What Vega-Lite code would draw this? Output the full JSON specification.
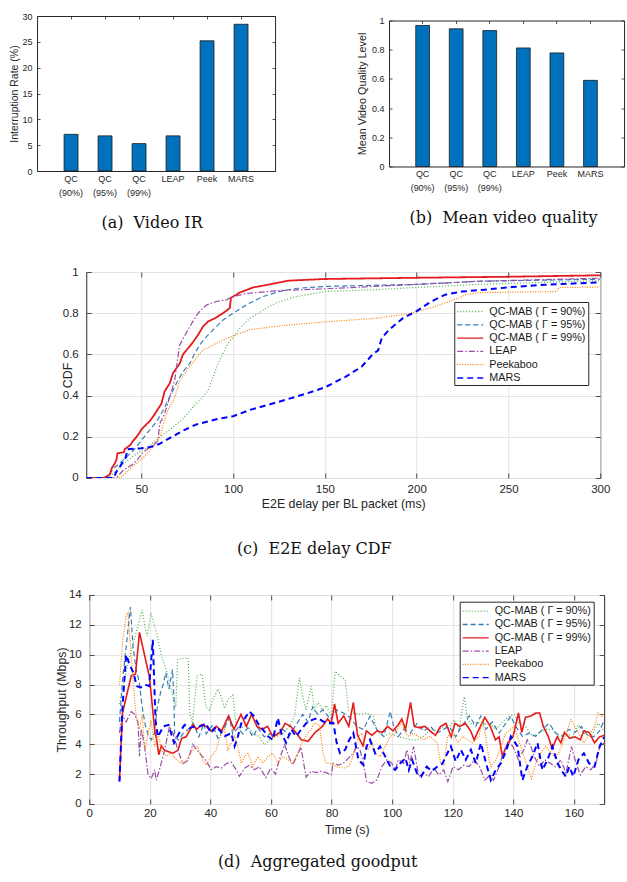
{
"$schema": "https://vega.github.io/schema/vega-lite/v6.json",
"background": "white",
"padding": {"left": 7.8, "top": 2, "right": 0, "bottom": 0},
"config": {
  "font": "Liberation Sans",
  "view": {"stroke": "#262626", "strokeWidth": 1},
  "axis": {"domain": false, "labelColor": "#262626", "titleColor": "#262626", "tickColor": "#262626", "tickWidth": 0.8, "titleFontWeight": "normal", "labelFlush": false, "labelOverlap": false, "gridColor": "#e3e3e3", "gridWidth": 1, "labelFont": "Liberation Sans", "titleFont": "Liberation Sans"},
  "title": {"font": "DejaVu Serif", "fontSize": 16, "fontWeight": "normal", "color": "#111111"},
  "legend": {"title": null, "orient": "none", "fillColor": "white", "strokeColor": "#262626", "padding": 2, "labelFontSize": 10.8, "labelColor": "#1a1a1a", "symbolType": "M-1,0H3", "symbolSize": 169, "symbolStrokeWidth": 1.3, "labelOffset": 18, "rowPadding": 0.3, "cornerRadius": 0}
},
"datasets": {
  "ir": [
    {"m": "QC|(90%)", "v": 7.1}, {"m": "QC|(95%)", "v": 6.8}, {"m": "QC|(99%)", "v": 5.3},
    {"m": "LEAP", "v": 6.8}, {"m": "Peek", "v": 25.2}, {"m": "MARS", "v": 28.4}
  ],
  "quality": [
    {"m": "QC|(90%)", "v": 0.966}, {"m": "QC|(95%)", "v": 0.943}, {"m": "QC|(99%)", "v": 0.931},
    {"m": "LEAP", "v": 0.812}, {"m": "Peek", "v": 0.778}, {"m": "MARS", "v": 0.59}
  ],
  "cdf": [
    {"s":"g90","x":20,"y":0},{"s":"g90","x":32,"y":0},{"s":"g90","x":34.5,"y":0.02},{"s":"g90","x":40,"y":0.068},{"s":"g90","x":47.3,"y":0.117},{"s":"g90","x":54.5,"y":0.158},{"s":"g90","x":60,"y":0.198},{"s":"g90","x":67.3,"y":0.247},{"s":"g90","x":72.7,"y":0.288},{"s":"g90","x":78.2,"y":0.345},{"s":"g90","x":82.7,"y":0.385},{"s":"g90","x":86.4,"y":0.426},{"s":"g90","x":89.1,"y":0.49},{"s":"g90","x":91.8,"y":0.556},{"s":"g90","x":94.5,"y":0.605},{"s":"g90","x":97.3,"y":0.655},{"s":"g90","x":100,"y":0.685},{"s":"g90","x":104,"y":0.73},{"s":"g90","x":109,"y":0.775},{"s":"g90","x":114,"y":0.8},{"s":"g90","x":120,"y":0.835},{"s":"g90","x":125,"y":0.855},{"s":"g90","x":134,"y":0.88},{"s":"g90","x":150,"y":0.905},{"s":"g90","x":179,"y":0.915},{"s":"g90","x":200,"y":0.925},{"s":"g90","x":234,"y":0.94},{"s":"g90","x":300,"y":0.958},
    {"s":"g95","x":20,"y":0},{"s":"g95","x":29,"y":0},{"s":"g95","x":32.7,"y":0.02},{"s":"g95","x":35.5,"y":0.052},{"s":"g95","x":38,"y":0.07},{"s":"g95","x":41.8,"y":0.1},{"s":"g95","x":46.4,"y":0.141},{"s":"g95","x":50,"y":0.182},{"s":"g95","x":53.6,"y":0.223},{"s":"g95","x":58.2,"y":0.272},{"s":"g95","x":61.8,"y":0.328},{"s":"g95","x":64.5,"y":0.377},{"s":"g95","x":67.3,"y":0.426},{"s":"g95","x":70,"y":0.475},{"s":"g95","x":72.7,"y":0.515},{"s":"g95","x":76.4,"y":0.556},{"s":"g95","x":79.1,"y":0.605},{"s":"g95","x":81.8,"y":0.646},{"s":"g95","x":85.5,"y":0.686},{"s":"g95","x":89.1,"y":0.719},{"s":"g95","x":94.5,"y":0.767},{"s":"g95","x":100,"y":0.8},{"s":"g95","x":107.3,"y":0.841},{"s":"g95","x":110.9,"y":0.857},{"s":"g95","x":116,"y":0.88},{"s":"g95","x":125,"y":0.905},{"s":"g95","x":134,"y":0.92},{"s":"g95","x":150,"y":0.93},{"s":"g95","x":200,"y":0.94},{"s":"g95","x":234,"y":0.955},{"s":"g95","x":300,"y":0.965},
    {"s":"g99","x":20,"y":0},{"s":"g99","x":30,"y":0},{"s":"g99","x":31,"y":0.005},{"s":"g99","x":33,"y":0.02},{"s":"g99","x":34,"y":0.05},{"s":"g99","x":35.5,"y":0.07},{"s":"g99","x":36.5,"y":0.09},{"s":"g99","x":37,"y":0.12},{"s":"g99","x":40.5,"y":0.125},{"s":"g99","x":41,"y":0.14},{"s":"g99","x":44,"y":0.16},{"s":"g99","x":45.5,"y":0.18},{"s":"g99","x":47,"y":0.195},{"s":"g99","x":49,"y":0.22},{"s":"g99","x":50,"y":0.235},{"s":"g99","x":52.7,"y":0.26},{"s":"g99","x":54.5,"y":0.275},{"s":"g99","x":57.3,"y":0.31},{"s":"g99","x":60.9,"y":0.36},{"s":"g99","x":62.7,"y":0.42},{"s":"g99","x":65.5,"y":0.46},{"s":"g99","x":67.3,"y":0.51},{"s":"g99","x":70.9,"y":0.555},{"s":"g99","x":72.7,"y":0.6},{"s":"g99","x":76.4,"y":0.64},{"s":"g99","x":78.2,"y":0.66},{"s":"g99","x":80.9,"y":0.695},{"s":"g99","x":83.6,"y":0.735},{"s":"g99","x":86.4,"y":0.76},{"s":"g99","x":90,"y":0.775},{"s":"g99","x":94.5,"y":0.8},{"s":"g99","x":98.2,"y":0.825},{"s":"g99","x":98.8,"y":0.875},{"s":"g99","x":103.6,"y":0.9},{"s":"g99","x":110.9,"y":0.925},{"s":"g99","x":120,"y":0.94},{"s":"g99","x":130,"y":0.958},{"s":"g99","x":150,"y":0.966},{"s":"g99","x":200,"y":0.972},{"s":"g99","x":250,"y":0.977},{"s":"g99","x":300,"y":0.984},
    {"s":"LEAP","x":20,"y":0},{"s":"LEAP","x":36,"y":0},{"s":"LEAP","x":37.3,"y":0.01},{"s":"LEAP","x":40,"y":0.036},{"s":"LEAP","x":45.5,"y":0.068},{"s":"LEAP","x":48,"y":0.09},{"s":"LEAP","x":50.9,"y":0.125},{"s":"LEAP","x":56.4,"y":0.16},{"s":"LEAP","x":59,"y":0.18},{"s":"LEAP","x":59.5,"y":0.22},{"s":"LEAP","x":60,"y":0.263},{"s":"LEAP","x":62.7,"y":0.312},{"s":"LEAP","x":65.5,"y":0.393},{"s":"LEAP","x":68.2,"y":0.475},{"s":"LEAP","x":69.5,"y":0.56},{"s":"LEAP","x":70.9,"y":0.646},{"s":"LEAP","x":73,"y":0.68},{"s":"LEAP","x":76.4,"y":0.735},{"s":"LEAP","x":80.9,"y":0.8},{"s":"LEAP","x":85.5,"y":0.84},{"s":"LEAP","x":90.9,"y":0.857},{"s":"LEAP","x":96.4,"y":0.865},{"s":"LEAP","x":99,"y":0.878},{"s":"LEAP","x":106.7,"y":0.895},{"s":"LEAP","x":125,"y":0.91},{"s":"LEAP","x":150,"y":0.918},{"s":"LEAP","x":200,"y":0.94},{"s":"LEAP","x":234,"y":0.955},{"s":"LEAP","x":300,"y":0.97},
    {"s":"Peek","x":20,"y":0},{"s":"Peek","x":37,"y":0},{"s":"Peek","x":40,"y":0.01},{"s":"Peek","x":45.5,"y":0.06},{"s":"Peek","x":50,"y":0.09},{"s":"Peek","x":54.5,"y":0.13},{"s":"Peek","x":58.2,"y":0.17},{"s":"Peek","x":60.9,"y":0.22},{"s":"Peek","x":62.5,"y":0.28},{"s":"Peek","x":64.5,"y":0.33},{"s":"Peek","x":68.2,"y":0.39},{"s":"Peek","x":70.9,"y":0.47},{"s":"Peek","x":74.5,"y":0.52},{"s":"Peek","x":78.2,"y":0.56},{"s":"Peek","x":80.9,"y":0.595},{"s":"Peek","x":83.6,"y":0.62},{"s":"Peek","x":89,"y":0.645},{"s":"Peek","x":94.5,"y":0.67},{"s":"Peek","x":100,"y":0.69},{"s":"Peek","x":109,"y":0.72},{"s":"Peek","x":125,"y":0.738},{"s":"Peek","x":150,"y":0.758},{"s":"Peek","x":179,"y":0.776},{"s":"Peek","x":194,"y":0.795},{"s":"Peek","x":201,"y":0.81},{"s":"Peek","x":208,"y":0.826},{"s":"Peek","x":215.6,"y":0.85},{"s":"Peek","x":222.9,"y":0.873},{"s":"Peek","x":226.5,"y":0.89},{"s":"Peek","x":233.8,"y":0.9},{"s":"Peek","x":276.5,"y":0.905},{"s":"Peek","x":277.5,"y":0.925},{"s":"Peek","x":300,"y":0.927},
    {"s":"MARS","x":20,"y":0},{"s":"MARS","x":35,"y":0},{"s":"MARS","x":36.4,"y":0.03},{"s":"MARS","x":38,"y":0.05},{"s":"MARS","x":41.5,"y":0.1},{"s":"MARS","x":42.5,"y":0.14},{"s":"MARS","x":50,"y":0.145},{"s":"MARS","x":55,"y":0.15},{"s":"MARS","x":60,"y":0.166},{"s":"MARS","x":72.7,"y":0.23},{"s":"MARS","x":80,"y":0.26},{"s":"MARS","x":90.9,"y":0.285},{"s":"MARS","x":100,"y":0.3},{"s":"MARS","x":109,"y":0.33},{"s":"MARS","x":124.9,"y":0.37},{"s":"MARS","x":140,"y":0.41},{"s":"MARS","x":150,"y":0.44},{"s":"MARS","x":161,"y":0.49},{"s":"MARS","x":170,"y":0.54},{"s":"MARS","x":176,"y":0.6},{"s":"MARS","x":179,"y":0.62},{"s":"MARS","x":181,"y":0.68},{"s":"MARS","x":185,"y":0.72},{"s":"MARS","x":192.5,"y":0.776},{"s":"MARS","x":200,"y":0.81},{"s":"MARS","x":208,"y":0.857},{"s":"MARS","x":215.6,"y":0.89},{"s":"MARS","x":224.6,"y":0.905},{"s":"MARS","x":237,"y":0.914},{"s":"MARS","x":251.8,"y":0.927},{"s":"MARS","x":270,"y":0.938},{"s":"MARS","x":300,"y":0.95}
  ],
  "tp": [
    {"s":"g90","t":10,"v":6.7},{"s":"g90","t":12.8,"v":9.45},{"s":"g90","t":15.2,"v":11.25},{"s":"g90","t":17.5,"v":13.0},{"s":"g90","t":18.4,"v":11.9},{"s":"g90","t":19.2,"v":11.25},{"s":"g90","t":20.4,"v":12.8},{"s":"g90","t":22.2,"v":11.5},{"s":"g90","t":23.9,"v":9.9},{"s":"g90","t":25.7,"v":8.8},{"s":"g90","t":27.4,"v":7.4},{"s":"g90","t":28.6,"v":6.5},{"s":"g90","t":29.2,"v":9.7},{"s":"g90","t":32.7,"v":9.8},{"s":"g90","t":33.2,"v":6.1},{"s":"g90","t":34.1,"v":5.4},{"s":"g90","t":35.6,"v":8.6},{"s":"g90","t":37.3,"v":8.7},{"s":"g90","t":38.5,"v":6.5},{"s":"g90","t":39.7,"v":6.3},{"s":"g90","t":40.8,"v":7.0},{"s":"g90","t":42.5,"v":7.7},{"s":"g90","t":43.6,"v":7.2},{"s":"g90","t":44.7,"v":6.4},{"s":"g90","t":45.8,"v":7.0},{"s":"g90","t":47.4,"v":7.3},{"s":"g90","t":48.5,"v":5.3},{"s":"g90","t":49.6,"v":5.0},{"s":"g90","t":51.8,"v":5.3},{"s":"g90","t":54,"v":4.74},{"s":"g90","t":56.2,"v":4.5},{"s":"g90","t":57.8,"v":3.97},{"s":"g90","t":59.5,"v":4.3},{"s":"g90","t":61.7,"v":4.5},{"s":"g90","t":63.9,"v":4.74},{"s":"g90","t":66.1,"v":5.2},{"s":"g90","t":67.8,"v":5.9},{"s":"g90","t":69.4,"v":8.45},{"s":"g90","t":70.5,"v":7.2},{"s":"g90","t":71.6,"v":6.3},{"s":"g90","t":73.3,"v":7.9},{"s":"g90","t":74.4,"v":6.3},{"s":"g90","t":75.5,"v":6.8},{"s":"g90","t":77.1,"v":6.3},{"s":"g90","t":78.2,"v":6.6},{"s":"g90","t":79.9,"v":5.9},{"s":"g90","t":80.5,"v":7.2},{"s":"g90","t":81.2,"v":8.9},{"s":"g90","t":82.8,"v":8.57},{"s":"g90","t":84.5,"v":8.35},{"s":"g90","t":85.6,"v":6.3},{"s":"g90","t":87.2,"v":6.1},{"s":"g90","t":89.4,"v":6.0},{"s":"g90","t":91.6,"v":6.1},{"s":"g90","t":93.8,"v":5.87},{"s":"g90","t":95,"v":4.87},{"s":"g90","t":97.2,"v":4.53},{"s":"g90","t":99.4,"v":4.75},{"s":"g90","t":101.6,"v":4.53},{"s":"g90","t":103.8,"v":4.42},{"s":"g90","t":106,"v":4.3},{"s":"g90","t":108.2,"v":4.3},{"s":"g90","t":110.4,"v":4.53},{"s":"g90","t":112.6,"v":5.0},{"s":"g90","t":114.8,"v":4.87},{"s":"g90","t":117,"v":5.2},{"s":"g90","t":118.6,"v":5.1},{"s":"g90","t":120.5,"v":5.65},{"s":"g90","t":122.1,"v":4.98},{"s":"g90","t":123.8,"v":7.2},{"s":"g90","t":124.9,"v":5.65},{"s":"g90","t":126.5,"v":5.3},{"s":"g90","t":128.2,"v":5.5},{"s":"g90","t":129.8,"v":5.2},{"s":"g90","t":132,"v":5.5},{"s":"g90","t":134.2,"v":4.98},{"s":"g90","t":136.4,"v":5.5},{"s":"g90","t":138.6,"v":5.87},{"s":"g90","t":140.3,"v":6.0},{"s":"g90","t":141.9,"v":5.4},{"s":"g90","t":144.1,"v":5.2},{"s":"g90","t":146.3,"v":4.53},{"s":"g90","t":148.5,"v":4.75},{"s":"g90","t":150.7,"v":5.0},{"s":"g90","t":152.9,"v":4.98},{"s":"g90","t":155.1,"v":4.53},{"s":"g90","t":157.3,"v":4.75},{"s":"g90","t":159.5,"v":4.53},{"s":"g90","t":161.5,"v":5.3},{"s":"g90","t":163.3,"v":4.75},{"s":"g90","t":165.6,"v":4.5},{"s":"g90","t":168,"v":5.4},{"s":"g90","t":170,"v":4.9},
    {"s":"g95","t":10,"v":5.5},{"s":"g95","t":11.1,"v":8.5},{"s":"g95","t":12.2,"v":10.5},{"s":"g95","t":13.6,"v":13.2},{"s":"g95","t":14.5,"v":10.5},{"s":"g95","t":15.5,"v":9.0},{"s":"g95","t":16.5,"v":8.2},{"s":"g95","t":17.5,"v":6.5},{"s":"g95","t":18.5,"v":5.3},{"s":"g95","t":19.5,"v":4.6},{"s":"g95","t":20.5,"v":4.3},{"s":"g95","t":21.5,"v":4.7},{"s":"g95","t":22.5,"v":6.5},{"s":"g95","t":23.6,"v":7.5},{"s":"g95","t":24.4,"v":8.0},{"s":"g95","t":25.3,"v":8.8},{"s":"g95","t":26.3,"v":7.7},{"s":"g95","t":27.5,"v":9.0},{"s":"g95","t":28,"v":7.0},{"s":"g95","t":28.2,"v":4.53},{"s":"g95","t":29.5,"v":4.3},{"s":"g95","t":31.1,"v":4.75},{"s":"g95","t":32.7,"v":5.0},{"s":"g95","t":34.4,"v":5.4},{"s":"g95","t":36.2,"v":4.5},{"s":"g95","t":37.9,"v":5.4},{"s":"g95","t":38.6,"v":4.7},{"s":"g95","t":40.8,"v":5.3},{"s":"g95","t":42.5,"v":4.4},{"s":"g95","t":44.7,"v":5.1},{"s":"g95","t":46.3,"v":5.8},{"s":"g95","t":47.4,"v":4.7},{"s":"g95","t":49.1,"v":5.1},{"s":"g95","t":50.7,"v":4.7},{"s":"g95","t":52.4,"v":5.1},{"s":"g95","t":54,"v":4.5},{"s":"g95","t":55.7,"v":5.1},{"s":"g95","t":57.8,"v":4.5},{"s":"g95","t":59.5,"v":4.7},{"s":"g95","t":61.7,"v":4.6},{"s":"g95","t":63.9,"v":5.0},{"s":"g95","t":66.1,"v":4.6},{"s":"g95","t":68.3,"v":5.3},{"s":"g95","t":70.5,"v":6.0},{"s":"g95","t":72.2,"v":5.5},{"s":"g95","t":73.8,"v":6.5},{"s":"g95","t":75.5,"v":6.0},{"s":"g95","t":77.1,"v":6.3},{"s":"g95","t":78.8,"v":5.9},{"s":"g95","t":79.5,"v":5.65},{"s":"g95","t":81.7,"v":6.3},{"s":"g95","t":83.9,"v":6.1},{"s":"g95","t":86.1,"v":5.8},{"s":"g95","t":88.3,"v":5.2},{"s":"g95","t":90.5,"v":5.0},{"s":"g95","t":92.7,"v":5.87},{"s":"g95","t":95,"v":4.98},{"s":"g95","t":97.2,"v":4.53},{"s":"g95","t":99.4,"v":6.2},{"s":"g95","t":100.5,"v":5.2},{"s":"g95","t":102.1,"v":4.53},{"s":"g95","t":103.8,"v":5.0},{"s":"g95","t":106,"v":4.75},{"s":"g95","t":108.2,"v":5.4},{"s":"g95","t":110.4,"v":4.87},{"s":"g95","t":112.6,"v":5.2},{"s":"g95","t":114.8,"v":4.75},{"s":"g95","t":117,"v":5.0},{"s":"g95","t":118.8,"v":5.2},{"s":"g95","t":121,"v":4.5},{"s":"g95","t":122.6,"v":5.1},{"s":"g95","t":125.5,"v":5.9},{"s":"g95","t":127.6,"v":5.2},{"s":"g95","t":129.3,"v":5.9},{"s":"g95","t":131,"v":5.0},{"s":"g95","t":133.1,"v":5.5},{"s":"g95","t":135.3,"v":4.75},{"s":"g95","t":137.5,"v":5.4},{"s":"g95","t":139.2,"v":5.87},{"s":"g95","t":140.8,"v":5.2},{"s":"g95","t":143,"v":4.53},{"s":"g95","t":145.2,"v":4.75},{"s":"g95","t":147.4,"v":4.53},{"s":"g95","t":149.6,"v":5.0},{"s":"g95","t":151.8,"v":5.4},{"s":"g95","t":154,"v":4.75},{"s":"g95","t":156.2,"v":4.53},{"s":"g95","t":158.4,"v":5.0},{"s":"g95","t":160.5,"v":4.8},{"s":"g95","t":162.5,"v":5.2},{"s":"g95","t":164.5,"v":4.6},{"s":"g95","t":166.5,"v":4.5},{"s":"g95","t":168.5,"v":4.9},{"s":"g95","t":170,"v":5.6},
    {"s":"g99","t":10,"v":1.6},{"s":"g99","t":11,"v":6.1},{"s":"g99","t":13.9,"v":8.6},{"s":"g99","t":15.3,"v":8.7},{"s":"g99","t":16.6,"v":11.5},{"s":"g99","t":19.9,"v":8.5},{"s":"g99","t":21.6,"v":5.0},{"s":"g99","t":22.1,"v":4.5},{"s":"g99","t":23,"v":3.3},{"s":"g99","t":23.8,"v":3.9},{"s":"g99","t":24.9,"v":3.6},{"s":"g99","t":27.6,"v":3.4},{"s":"g99","t":29.3,"v":3.6},{"s":"g99","t":30.5,"v":4.4},{"s":"g99","t":32,"v":4.5},{"s":"g99","t":34.2,"v":5.3},{"s":"g99","t":35.5,"v":5.0},{"s":"g99","t":37,"v":5.3},{"s":"g99","t":38.6,"v":5.2},{"s":"g99","t":40.2,"v":4.9},{"s":"g99","t":42,"v":5.2},{"s":"g99","t":43.7,"v":4.9},{"s":"g99","t":46,"v":5.9},{"s":"g99","t":47.8,"v":5.0},{"s":"g99","t":50.1,"v":6.0},{"s":"g99","t":51.9,"v":5.2},{"s":"g99","t":53.6,"v":6.0},{"s":"g99","t":55.4,"v":5.2},{"s":"g99","t":57.1,"v":5.0},{"s":"g99","t":58.9,"v":5.2},{"s":"g99","t":60.6,"v":4.5},{"s":"g99","t":63,"v":4.8},{"s":"g99","t":64.7,"v":5.4},{"s":"g99","t":66.5,"v":5.2},{"s":"g99","t":68.2,"v":4.8},{"s":"g99","t":70,"v":4.3},{"s":"g99","t":72.3,"v":4.2},{"s":"g99","t":74.6,"v":4.8},{"s":"g99","t":77,"v":5.2},{"s":"g99","t":78.7,"v":5.7},{"s":"g99","t":79.9,"v":5.4},{"s":"g99","t":81,"v":6.7},{"s":"g99","t":82.2,"v":5.4},{"s":"g99","t":84,"v":5.9},{"s":"g99","t":85.7,"v":5.2},{"s":"g99","t":87.2,"v":6.8},{"s":"g99","t":88.6,"v":4.6},{"s":"g99","t":90.4,"v":3.9},{"s":"g99","t":91.5,"v":4.9},{"s":"g99","t":93.3,"v":4.6},{"s":"g99","t":95,"v":4.9},{"s":"g99","t":96.8,"v":4.8},{"s":"g99","t":98.5,"v":5.2},{"s":"g99","t":100.3,"v":4.9},{"s":"g99","t":102,"v":5.3},{"s":"g99","t":103.2,"v":5.7},{"s":"g99","t":104.4,"v":5.0},{"s":"g99","t":106.1,"v":6.8},{"s":"g99","t":107.3,"v":5.2},{"s":"g99","t":109,"v":5.1},{"s":"g99","t":110.8,"v":5.2},{"s":"g99","t":112.5,"v":4.9},{"s":"g99","t":114.3,"v":4.6},{"s":"g99","t":116,"v":5.2},{"s":"g99","t":117.8,"v":5.4},{"s":"g99","t":119.5,"v":4.5},{"s":"g99","t":120.7,"v":5.4},{"s":"g99","t":122.4,"v":5.2},{"s":"g99","t":124.2,"v":5.4},{"s":"g99","t":125.9,"v":4.9},{"s":"g99","t":127.1,"v":4.3},{"s":"g99","t":128.9,"v":5.1},{"s":"g99","t":130.6,"v":5.8},{"s":"g99","t":132.4,"v":5.2},{"s":"g99","t":134.1,"v":4.3},{"s":"g99","t":135.3,"v":4.5},{"s":"g99","t":136.4,"v":3.2},{"s":"g99","t":138.2,"v":4.1},{"s":"g99","t":139.9,"v":4.5},{"s":"g99","t":141.7,"v":6.1},{"s":"g99","t":142.8,"v":4.8},{"s":"g99","t":144,"v":5.8},{"s":"g99","t":145.8,"v":5.9},{"s":"g99","t":147.5,"v":6.1},{"s":"g99","t":148.7,"v":6.1},{"s":"g99","t":149.9,"v":5.2},{"s":"g99","t":151.6,"v":4.5},{"s":"g99","t":152.8,"v":3.7},{"s":"g99","t":154.5,"v":4.5},{"s":"g99","t":155.7,"v":4.1},{"s":"g99","t":156.9,"v":4.8},{"s":"g99","t":158.6,"v":4.4},{"s":"g99","t":160.4,"v":4.5},{"s":"g99","t":162.1,"v":4.3},{"s":"g99","t":163.3,"v":4.9},{"s":"g99","t":165,"v":4.8},{"s":"g99","t":166.8,"v":4.1},{"s":"g99","t":168.5,"v":4.5},{"s":"g99","t":170,"v":4.6},
    {"s":"LEAP","t":10,"v":4.76},{"s":"LEAP","t":10.6,"v":5.6},{"s":"LEAP","t":11.1,"v":5.9},{"s":"LEAP","t":12.2,"v":5.5},{"s":"LEAP","t":13.9,"v":6.2},{"s":"LEAP","t":15,"v":6.0},{"s":"LEAP","t":16.1,"v":5.5},{"s":"LEAP","t":16.6,"v":3.2},{"s":"LEAP","t":17.2,"v":5.0},{"s":"LEAP","t":18.3,"v":3.9},{"s":"LEAP","t":19.4,"v":2.0},{"s":"LEAP","t":20.5,"v":1.7},{"s":"LEAP","t":21.6,"v":2.3},{"s":"LEAP","t":22.1,"v":1.6},{"s":"LEAP","t":23.2,"v":2.3},{"s":"LEAP","t":24.9,"v":3.6},{"s":"LEAP","t":26.5,"v":5.2},{"s":"LEAP","t":27.6,"v":4.8},{"s":"LEAP","t":29.3,"v":3.6},{"s":"LEAP","t":30.9,"v":2.7},{"s":"LEAP","t":32.6,"v":2.9},{"s":"LEAP","t":34.2,"v":4.0},{"s":"LEAP","t":36,"v":3.5},{"s":"LEAP","t":38.6,"v":2.9},{"s":"LEAP","t":40.3,"v":2.3},{"s":"LEAP","t":41.9,"v":2.5},{"s":"LEAP","t":43.6,"v":2.4},{"s":"LEAP","t":45.2,"v":2.7},{"s":"LEAP","t":46.9,"v":2.8},{"s":"LEAP","t":48.5,"v":2.3},{"s":"LEAP","t":49.6,"v":1.85},{"s":"LEAP","t":51.3,"v":2.4},{"s":"LEAP","t":52.9,"v":2.6},{"s":"LEAP","t":54.5,"v":2.3},{"s":"LEAP","t":56.2,"v":2.5},{"s":"LEAP","t":58.3,"v":1.76},{"s":"LEAP","t":60,"v":2.4},{"s":"LEAP","t":61.5,"v":2.0},{"s":"LEAP","t":62.8,"v":3.0},{"s":"LEAP","t":64.5,"v":3.98},{"s":"LEAP","t":66.1,"v":3.08},{"s":"LEAP","t":67.2,"v":2.63},{"s":"LEAP","t":68.8,"v":3.3},{"s":"LEAP","t":69.9,"v":3.8},{"s":"LEAP","t":71.6,"v":1.8},{"s":"LEAP","t":73.3,"v":2.2},{"s":"LEAP","t":74.9,"v":2.1},{"s":"LEAP","t":76.6,"v":2.2},{"s":"LEAP","t":78.2,"v":2.1},{"s":"LEAP","t":79.9,"v":1.96},{"s":"LEAP","t":80.5,"v":2.73},{"s":"LEAP","t":82.2,"v":2.6},{"s":"LEAP","t":83.9,"v":2.73},{"s":"LEAP","t":85.6,"v":3.07},{"s":"LEAP","t":87.2,"v":3.4},{"s":"LEAP","t":88.3,"v":3.85},{"s":"LEAP","t":89.4,"v":3.63},{"s":"LEAP","t":90.5,"v":2.73},{"s":"LEAP","t":91.6,"v":1.5},{"s":"LEAP","t":93.3,"v":1.39},{"s":"LEAP","t":95,"v":1.62},{"s":"LEAP","t":96.6,"v":2.51},{"s":"LEAP","t":98.3,"v":2.96},{"s":"LEAP","t":99.9,"v":2.73},{"s":"LEAP","t":101,"v":2.28},{"s":"LEAP","t":102.1,"v":2.96},{"s":"LEAP","t":103.8,"v":2.73},{"s":"LEAP","t":104.9,"v":3.63},{"s":"LEAP","t":105.8,"v":2.73},{"s":"LEAP","t":107.1,"v":3.85},{"s":"LEAP","t":108.8,"v":1.84},{"s":"LEAP","t":110.4,"v":2.06},{"s":"LEAP","t":112.1,"v":1.84},{"s":"LEAP","t":113.8,"v":2.4},{"s":"LEAP","t":115.4,"v":1.95},{"s":"LEAP","t":117,"v":2.28},{"s":"LEAP","t":118.4,"v":1.5},{"s":"LEAP","t":120.1,"v":2.5},{"s":"LEAP","t":121.9,"v":2.3},{"s":"LEAP","t":123.6,"v":2.6},{"s":"LEAP","t":125.4,"v":2.5},{"s":"LEAP","t":127.1,"v":2.96},{"s":"LEAP","t":128.9,"v":2.5},{"s":"LEAP","t":130.6,"v":1.6},{"s":"LEAP","t":132.4,"v":1.95},{"s":"LEAP","t":133.5,"v":1.6},{"s":"LEAP","t":135.3,"v":2.5},{"s":"LEAP","t":137,"v":3.63},{"s":"LEAP","t":138.8,"v":4.1},{"s":"LEAP","t":139.9,"v":3.85},{"s":"LEAP","t":141.7,"v":2.96},{"s":"LEAP","t":143.4,"v":3.6},{"s":"LEAP","t":144.6,"v":4.3},{"s":"LEAP","t":145.8,"v":3.85},{"s":"LEAP","t":146.9,"v":3.18},{"s":"LEAP","t":148.7,"v":2.5},{"s":"LEAP","t":150.4,"v":2.96},{"s":"LEAP","t":152.2,"v":2.73},{"s":"LEAP","t":153.9,"v":2.5},{"s":"LEAP","t":155.7,"v":2.96},{"s":"LEAP","t":157.4,"v":2.06},{"s":"LEAP","t":159.2,"v":3.85},{"s":"LEAP","t":160.4,"v":2.96},{"s":"LEAP","t":162.1,"v":1.95},{"s":"LEAP","t":163.9,"v":2.5},{"s":"LEAP","t":165.6,"v":2.3},{"s":"LEAP","t":167.3,"v":2.73},{"s":"LEAP","t":168.5,"v":3.85},{"s":"LEAP","t":170,"v":4.1},
    {"s":"Peek","t":10,"v":8.0},{"s":"Peek","t":11.1,"v":11.0},{"s":"Peek","t":12.2,"v":12.6},{"s":"Peek","t":12.8,"v":12.8},{"s":"Peek","t":13.9,"v":9.9},{"s":"Peek","t":14.6,"v":8.0},{"s":"Peek","t":15.5,"v":5.9},{"s":"Peek","t":16.6,"v":5.0},{"s":"Peek","t":17.5,"v":6.0},{"s":"Peek","t":18.3,"v":3.6},{"s":"Peek","t":19.4,"v":4.7},{"s":"Peek","t":20.4,"v":5.6},{"s":"Peek","t":21.6,"v":3.85},{"s":"Peek","t":22.7,"v":4.75},{"s":"Peek","t":23.8,"v":3.6},{"s":"Peek","t":25.4,"v":3.2},{"s":"Peek","t":27.1,"v":3.4},{"s":"Peek","t":28.7,"v":3.0},{"s":"Peek","t":30.4,"v":2.7},{"s":"Peek","t":32,"v":2.95},{"s":"Peek","t":34.2,"v":3.6},{"s":"Peek","t":35.8,"v":3.85},{"s":"Peek","t":37.3,"v":3.0},{"s":"Peek","t":38.6,"v":2.6},{"s":"Peek","t":40.3,"v":3.2},{"s":"Peek","t":41.9,"v":3.6},{"s":"Peek","t":43.6,"v":4.75},{"s":"Peek","t":44.7,"v":5.0},{"s":"Peek","t":45.8,"v":3.63},{"s":"Peek","t":46.9,"v":4.1},{"s":"Peek","t":48,"v":4.53},{"s":"Peek","t":49.1,"v":3.86},{"s":"Peek","t":50.2,"v":2.73},{"s":"Peek","t":51.3,"v":3.18},{"s":"Peek","t":52.4,"v":3.4},{"s":"Peek","t":54,"v":2.5},{"s":"Peek","t":55.7,"v":3.18},{"s":"Peek","t":57.3,"v":2.73},{"s":"Peek","t":59,"v":3.18},{"s":"Peek","t":60.6,"v":3.4},{"s":"Peek","t":62.3,"v":2.73},{"s":"Peek","t":63.9,"v":3.18},{"s":"Peek","t":65.5,"v":2.96},{"s":"Peek","t":67.2,"v":2.73},{"s":"Peek","t":68.8,"v":3.4},{"s":"Peek","t":69.9,"v":3.97},{"s":"Peek","t":72.2,"v":4.75},{"s":"Peek","t":73.3,"v":5.0},{"s":"Peek","t":74.4,"v":5.43},{"s":"Peek","t":76,"v":5.3},{"s":"Peek","t":77.1,"v":3.52},{"s":"Peek","t":78.2,"v":2.73},{"s":"Peek","t":79.5,"v":2.73},{"s":"Peek","t":81.7,"v":2.5},{"s":"Peek","t":83.9,"v":2.4},{"s":"Peek","t":85.6,"v":2.5},{"s":"Peek","t":86.7,"v":2.96},{"s":"Peek","t":87.8,"v":3.74},{"s":"Peek","t":88.9,"v":4.53},{"s":"Peek","t":90,"v":4.75},{"s":"Peek","t":91.1,"v":3.86},{"s":"Peek","t":92.2,"v":3.63},{"s":"Peek","t":93.3,"v":4.1},{"s":"Peek","t":94.4,"v":3.4},{"s":"Peek","t":96,"v":3.18},{"s":"Peek","t":97.7,"v":3.86},{"s":"Peek","t":99.4,"v":4.53},{"s":"Peek","t":101,"v":4.75},{"s":"Peek","t":102.1,"v":5.1},{"s":"Peek","t":103.2,"v":5.54},{"s":"Peek","t":104.4,"v":4.75},{"s":"Peek","t":105.5,"v":4.53},{"s":"Peek","t":107.1,"v":4.75},{"s":"Peek","t":110.4,"v":4.3},{"s":"Peek","t":112.6,"v":4.53},{"s":"Peek","t":113.8,"v":4.3},{"s":"Peek","t":114.9,"v":4.1},{"s":"Peek","t":116,"v":2.73},{"s":"Peek","t":117.1,"v":2.62},{"s":"Peek","t":118.3,"v":4.53},{"s":"Peek","t":120,"v":4.75},{"s":"Peek","t":121.6,"v":4.1},{"s":"Peek","t":123.3,"v":4.53},{"s":"Peek","t":124.9,"v":4.3},{"s":"Peek","t":126.5,"v":4.1},{"s":"Peek","t":128.7,"v":4.53},{"s":"Peek","t":129.8,"v":5.65},{"s":"Peek","t":130.9,"v":4.53},{"s":"Peek","t":132,"v":2.96},{"s":"Peek","t":132.6,"v":2.5},{"s":"Peek","t":134.2,"v":2.96},{"s":"Peek","t":135.9,"v":3.86},{"s":"Peek","t":137.5,"v":4.75},{"s":"Peek","t":140.3,"v":5.2},{"s":"Peek","t":143.5,"v":3.2},{"s":"Peek","t":144.6,"v":2.5},{"s":"Peek","t":146,"v":1.7},{"s":"Peek","t":147.4,"v":2.73},{"s":"Peek","t":149,"v":3.4},{"s":"Peek","t":150.7,"v":3.86},{"s":"Peek","t":154,"v":3.07},{"s":"Peek","t":155.7,"v":3.74},{"s":"Peek","t":159,"v":5.65},{"s":"Peek","t":161.5,"v":4.75},{"s":"Peek","t":163.3,"v":4.1},{"s":"Peek","t":166.8,"v":5.2},{"s":"Peek","t":168,"v":6.1},{"s":"Peek","t":169.2,"v":5.87},{"s":"Peek","t":170,"v":6.0},
    {"s":"MARS","t":10,"v":1.5},{"s":"MARS","t":11,"v":6.5},{"s":"MARS","t":12.2,"v":10.0},{"s":"MARS","t":13.4,"v":9.3},{"s":"MARS","t":14.6,"v":8.8},{"s":"MARS","t":15.7,"v":7.9},{"s":"MARS","t":17,"v":7.8},{"s":"MARS","t":18.5,"v":8.0},{"s":"MARS","t":19.8,"v":7.9},{"s":"MARS","t":21,"v":11.0},{"s":"MARS","t":21.9,"v":5.6},{"s":"MARS","t":22.7,"v":4.5},{"s":"MARS","t":24.5,"v":5.2},{"s":"MARS","t":26.2,"v":5.3},{"s":"MARS","t":28,"v":4.1},{"s":"MARS","t":29.7,"v":4.75},{"s":"MARS","t":31.5,"v":5.3},{"s":"MARS","t":33.2,"v":5.1},{"s":"MARS","t":35,"v":5.2},{"s":"MARS","t":36.7,"v":5.2},{"s":"MARS","t":38.5,"v":5.4},{"s":"MARS","t":40.2,"v":4.75},{"s":"MARS","t":42,"v":5.2},{"s":"MARS","t":44.7,"v":4.53},{"s":"MARS","t":46.9,"v":4.75},{"s":"MARS","t":48,"v":3.87},{"s":"MARS","t":49.1,"v":4.53},{"s":"MARS","t":50.2,"v":5.4},{"s":"MARS","t":51.8,"v":5.87},{"s":"MARS","t":52.9,"v":6.2},{"s":"MARS","t":54.5,"v":5.87},{"s":"MARS","t":55.7,"v":5.4},{"s":"MARS","t":57.3,"v":5.0},{"s":"MARS","t":59,"v":4.53},{"s":"MARS","t":60.6,"v":4.3},{"s":"MARS","t":62.3,"v":5.76},{"s":"MARS","t":63.4,"v":4.75},{"s":"MARS","t":65,"v":4.1},{"s":"MARS","t":66.7,"v":5.0},{"s":"MARS","t":68.3,"v":4.53},{"s":"MARS","t":70,"v":5.0},{"s":"MARS","t":71.6,"v":5.4},{"s":"MARS","t":73.8,"v":5.65},{"s":"MARS","t":75.5,"v":5.76},{"s":"MARS","t":77.1,"v":5.54},{"s":"MARS","t":78.8,"v":5.4},{"s":"MARS","t":80.6,"v":5.43},{"s":"MARS","t":81.7,"v":4.1},{"s":"MARS","t":82.8,"v":3.4},{"s":"MARS","t":84.5,"v":3.63},{"s":"MARS","t":85.6,"v":4.2},{"s":"MARS","t":87.2,"v":4.75},{"s":"MARS","t":88.9,"v":2.96},{"s":"MARS","t":90.5,"v":2.62},{"s":"MARS","t":91.6,"v":3.86},{"s":"MARS","t":92.7,"v":4.3},{"s":"MARS","t":94.4,"v":3.4},{"s":"MARS","t":96,"v":3.86},{"s":"MARS","t":97.7,"v":3.19},{"s":"MARS","t":99.4,"v":2.5},{"s":"MARS","t":101,"v":2.28},{"s":"MARS","t":102.7,"v":2.73},{"s":"MARS","t":104.4,"v":3.07},{"s":"MARS","t":105.5,"v":2.28},{"s":"MARS","t":106.6,"v":2.96},{"s":"MARS","t":108.2,"v":2.06},{"s":"MARS","t":109.6,"v":1.84},{"s":"MARS","t":111.4,"v":2.5},{"s":"MARS","t":113.1,"v":2.2},{"s":"MARS","t":114.9,"v":2.5},{"s":"MARS","t":116.6,"v":2.7},{"s":"MARS","t":117.7,"v":3.18},{"s":"MARS","t":119.4,"v":3.86},{"s":"MARS","t":121,"v":2.85},{"s":"MARS","t":122.7,"v":3.63},{"s":"MARS","t":124.3,"v":2.96},{"s":"MARS","t":126,"v":3.63},{"s":"MARS","t":127.6,"v":2.73},{"s":"MARS","t":129.3,"v":4.08},{"s":"MARS","t":131,"v":2.73},{"s":"MARS","t":132.6,"v":1.6},{"s":"MARS","t":134.2,"v":2.28},{"s":"MARS","t":135.9,"v":2.73},{"s":"MARS","t":137.5,"v":3.5},{"s":"MARS","t":139.2,"v":4.53},{"s":"MARS","t":141.4,"v":3.86},{"s":"MARS","t":143,"v":1.6},{"s":"MARS","t":144.6,"v":2.5},{"s":"MARS","t":146.3,"v":3.18},{"s":"MARS","t":148,"v":4.08},{"s":"MARS","t":149.6,"v":2.28},{"s":"MARS","t":151.3,"v":2.96},{"s":"MARS","t":152.9,"v":3.86},{"s":"MARS","t":154.6,"v":2.73},{"s":"MARS","t":156.2,"v":2.17},{"s":"MARS","t":157.3,"v":1.84},{"s":"MARS","t":158.5,"v":2.5},{"s":"MARS","t":159.8,"v":1.84},{"s":"MARS","t":161.5,"v":2.96},{"s":"MARS","t":163.3,"v":3.4},{"s":"MARS","t":165,"v":2.73},{"s":"MARS","t":166.8,"v":2.5},{"s":"MARS","t":168.5,"v":3.85},{"s":"MARS","t":170,"v":4.5}
  ]
},
"concat": [
  {
    "concat": [
      {
        "width": 238, "height": 155,
        "data": {"name": "ir"},
        "title": {"text": "(a)\u00a0 Video IR", "orient": "bottom", "anchor": "middle", "frame": "group", "offset": 17, "dx": -4},
        "layer": [
          {
            "mark": {"type": "bar", "fill": "#0072BD", "stroke": "#1a1a1a", "strokeWidth": 0.8},
            "encoding": {
              "x": {"field": "m", "type": "nominal", "sort": null, "scale": {"paddingInner": 0.59, "paddingOuter": 0.795}, "axis": {"title": null, "labelAngle": 0, "ticks": false, "labelExpr": "split(datum.label, '|')", "labelFontSize": 9, "labelPadding": 3, "labelLineHeight": 14.5, "labelBaseline": "top"}},
              "y": {"field": "v", "type": "quantitative", "scale": {"domain": [0, 30], "nice": false}, "axis": {"values": [0, 5, 10, 15, 20, 25, 30], "title": "Interruption Rate (%)", "titleFontSize": 10.5, "titleAngle": 270, "titleX": -18, "tickSize": -3, "labelPadding": 8, "labelFontSize": 9, "grid": false}}
            }
          },
          {
            "mark": {"type": "bar", "opacity": 0},
            "encoding": {
              "x": {"field": "m", "type": "nominal", "sort": null, "axis": {"orient": "top", "labels": false, "tickSize": -3, "title": " ", "titleFontSize": 1, "titleY": -7.5, "titleBaseline": "top"}},
              "y": {"field": "v", "type": "quantitative", "axis": {"orient": "right", "labels": false, "tickSize": -3, "title": null, "values": [0, 5, 10, 15, 20, 25, 30], "grid": false}}
            }
          }
        ],
        "resolve": {"axis": {"x": "independent", "y": "independent"}}
      },
      {
        "width": 235, "height": 146,
        "data": {"name": "quality"},
        "title": {"text": "(b)\u00a0 Mean video quality", "orient": "bottom", "anchor": "middle", "frame": "group", "offset": 17, "dx": -3},
        "layer": [
          {
            "mark": {"type": "bar", "fill": "#0072BD", "stroke": "#1a1a1a", "strokeWidth": 0.8},
            "encoding": {
              "x": {"field": "m", "type": "nominal", "sort": null, "scale": {"paddingInner": 0.59, "paddingOuter": 0.795}, "axis": {"title": null, "labelAngle": 0, "ticks": false, "labelExpr": "split(datum.label, '|')", "labelFontSize": 9, "labelPadding": 3, "labelLineHeight": 14.5, "labelBaseline": "top"}},
              "y": {"field": "v", "type": "quantitative", "scale": {"domain": [0, 1], "nice": false}, "axis": {"values": [0, 0.2, 0.4, 0.6, 0.8, 1], "format": "~g", "title": "Mean Video Quality Level", "titleFontSize": 10.8, "titleAngle": 270, "titleX": -22, "tickSize": -3, "labelPadding": 8, "labelFontSize": 9, "grid": false}}
            }
          },
          {
            "mark": {"type": "bar", "opacity": 0},
            "encoding": {
              "x": {"field": "m", "type": "nominal", "sort": null, "axis": {"orient": "top", "labels": false, "tickSize": -3, "title": " ", "titleFontSize": 1, "titleY": -17.5, "titleBaseline": "top"}},
              "y": {"field": "v", "type": "quantitative", "axis": {"orient": "right", "labels": false, "tickSize": -3, "title": " ", "titleFontSize": 1, "titleX": 34, "values": [0, 0.2, 0.4, 0.6, 0.8, 1], "grid": false}}
            }
          }
        ],
        "resolve": {"axis": {"x": "independent", "y": "independent"}}
      }
    ],
    "columns": 2,
    "center": true,
    "spacing": 79
  },
  {
    "width": 514, "height": 206,
    "data": {"name": "cdf"},
    "title": {"text": "(c)\u00a0 E2E delay CDF", "orient": "bottom", "anchor": "middle", "frame": "group", "offset": 31, "dx": -29},
    "layer": [
      {
        "mark": {"type": "line", "clip": true},
        "encoding": {
          "x": {"field": "x", "type": "quantitative", "scale": {"domain": [20, 300], "nice": false, "zero": false}, "axis": {"values": [50, 100, 150, 200, 250, 300], "title": "E2E delay per BL packet (ms)", "titleFontSize": 12.4, "titlePadding": 2, "grid": true, "tickSize": -5, "labelPadding": 11, "labelFontSize": 11.5}},
          "y": {"field": "y", "type": "quantitative", "scale": {"domain": [0, 1], "nice": false}, "axis": {"values": [0, 0.2, 0.4, 0.6, 0.8, 1], "format": "~g", "title": [" ", "CDF"], "titleAngle": 270, "titleLineHeight": 35, "titleX": -47, "titleFontSize": 12.4, "grid": true, "tickSize": -5, "labelPadding": 13, "labelFontSize": 11.5}},
          "color": {"field": "s", "type": "nominal", "scale": {"domain": ["g90", "g95", "g99", "LEAP", "Peek", "MARS"], "range": ["#4daf4a", "#377eb8", "#e41a1c", "#984ea3", "#ff7f00", "#0000ff"]}, "legend": {"legendX": 368, "legendY": 30, "labelExpr": "{'g90': 'QC-MAB ( \u0393 = 90%)', 'g95': 'QC-MAB ( \u0393 = 95%)', 'g99': 'QC-MAB ( \u0393 = 99%)', 'LEAP': 'LEAP', 'Peek': 'Peekaboo', 'MARS': 'MARS'}[datum.label] + '\u00a0\u00a0\u00a0\u00a0\u00a0\u00a0'"}},
          "strokeDash": {"field": "s", "type": "nominal", "scale": {"domain": ["g90", "g95", "g99", "LEAP", "Peek", "MARS"], "range": [[1, 2], [5, 3], [1, 0], [6, 2, 1.5, 2], [1, 1.5], [6, 4]]}, "legend": {"legendX": 368, "legendY": 30, "labelExpr": "{'g90': 'QC-MAB ( \u0393 = 90%)', 'g95': 'QC-MAB ( \u0393 = 95%)', 'g99': 'QC-MAB ( \u0393 = 99%)', 'LEAP': 'LEAP', 'Peek': 'Peekaboo', 'MARS': 'MARS'}[datum.label] + '\u00a0\u00a0\u00a0\u00a0\u00a0\u00a0'"}},
          "strokeWidth": {"condition": [{"test": "datum.s === 'g99'", "value": 1.8}, {"test": "datum.s === 'MARS'", "value": 2}], "value": 1.2}
        }
      },
      {
        "mark": {"type": "point", "opacity": 0},
        "encoding": {
          "x": {"field": "x", "type": "quantitative", "axis": {"orient": "top", "labels": false, "tickSize": -5, "values": [50, 100, 150, 200, 250, 300], "title": " ", "titleFontSize": 1, "titleY": -20, "titleBaseline": "top", "grid": false}},
          "y": {"field": "y", "type": "quantitative", "axis": {"orient": "right", "labels": false, "tickSize": -5, "values": [0, 0.2, 0.4, 0.6, 0.8, 1], "title": null, "grid": false}}
        }
      }
    ],
    "resolve": {"axis": {"x": "independent", "y": "independent"}}
  },
  {
    "width": 515, "height": 209,
    "data": {"name": "tp"},
    "title": {"text": "(d)\u00a0 Aggregated goodput", "orient": "bottom", "anchor": "middle", "frame": "group", "offset": 18, "dx": -29},
    "layer": [
      {
        "mark": {"type": "line", "clip": true},
        "encoding": {
          "x": {"field": "t", "type": "quantitative", "scale": {"domain": [0, 170], "nice": false, "zero": false}, "axis": {"values": [0, 20, 40, 60, 80, 100, 120, 140, 160], "title": "Time (s)", "titleFontSize": 12.4, "titlePadding": 4, "grid": true, "tickSize": -5, "labelPadding": 9, "labelFontSize": 11.5}},
          "y": {"field": "v", "type": "quantitative", "scale": {"domain": [0, 14], "nice": false}, "axis": {"values": [0, 2, 4, 6, 8, 10, 12, 14], "title": [" ", "Throughput (Mbps)"], "titleAngle": 270, "titleLineHeight": 5.5, "titleX": -26.5, "titleFontSize": 12.4, "grid": true, "tickSize": -5, "labelPadding": 13, "labelFontSize": 11.5}},
          "color": {"field": "s", "type": "nominal", "scale": {"domain": ["g90", "g95", "g99", "LEAP", "Peek", "MARS"], "range": ["#4daf4a", "#377eb8", "#e41a1c", "#984ea3", "#ff7f00", "#0000ff"]}, "legend": {"legendX": 370.5, "legendY": 6.7, "labelExpr": "{'g90': 'QC-MAB ( \u0393 = 90%)', 'g95': 'QC-MAB ( \u0393 = 95%)', 'g99': 'QC-MAB ( \u0393 = 99%)', 'LEAP': 'LEAP', 'Peek': 'Peekaboo', 'MARS': 'MARS'}[datum.label] + '\u00a0\u00a0\u00a0\u00a0\u00a0\u00a0'"}},
          "strokeDash": {"field": "s", "type": "nominal", "scale": {"domain": ["g90", "g95", "g99", "LEAP", "Peek", "MARS"], "range": [[1, 2], [5, 3], [1, 0], [6, 2, 1.5, 2], [1, 1.5], [6, 4]]}, "legend": {"legendX": 370.5, "legendY": 6.7, "labelExpr": "{'g90': 'QC-MAB ( \u0393 = 90%)', 'g95': 'QC-MAB ( \u0393 = 95%)', 'g99': 'QC-MAB ( \u0393 = 99%)', 'LEAP': 'LEAP', 'Peek': 'Peekaboo', 'MARS': 'MARS'}[datum.label] + '\u00a0\u00a0\u00a0\u00a0\u00a0\u00a0'"}},
          "strokeWidth": {"condition": [{"test": "datum.s === 'g99'", "value": 1.6}, {"test": "datum.s === 'MARS'", "value": 2}], "value": 1.2}
        }
      },
      {
        "mark": {"type": "point", "opacity": 0},
        "encoding": {
          "x": {"field": "t", "type": "quantitative", "axis": {"orient": "top", "labels": false, "tickSize": -5, "values": [0, 20, 40, 60, 80, 100, 120, 140, 160], "title": " ", "titleFontSize": 1, "titleY": -16, "titleBaseline": "top", "grid": false}},
          "y": {"field": "v", "type": "quantitative", "axis": {"orient": "right", "labels": false, "tickSize": -5, "values": [0, 2, 4, 6, 8, 10, 12, 14], "title": null, "grid": false}}
        }
      }
    ],
    "resolve": {"axis": {"x": "independent", "y": "independent"}}
  }
],
"columns": 1,
"center": true,
"spacing": 20,
"resolve": {"scale": {"color": "independent", "strokeDash": "independent"}}
}
